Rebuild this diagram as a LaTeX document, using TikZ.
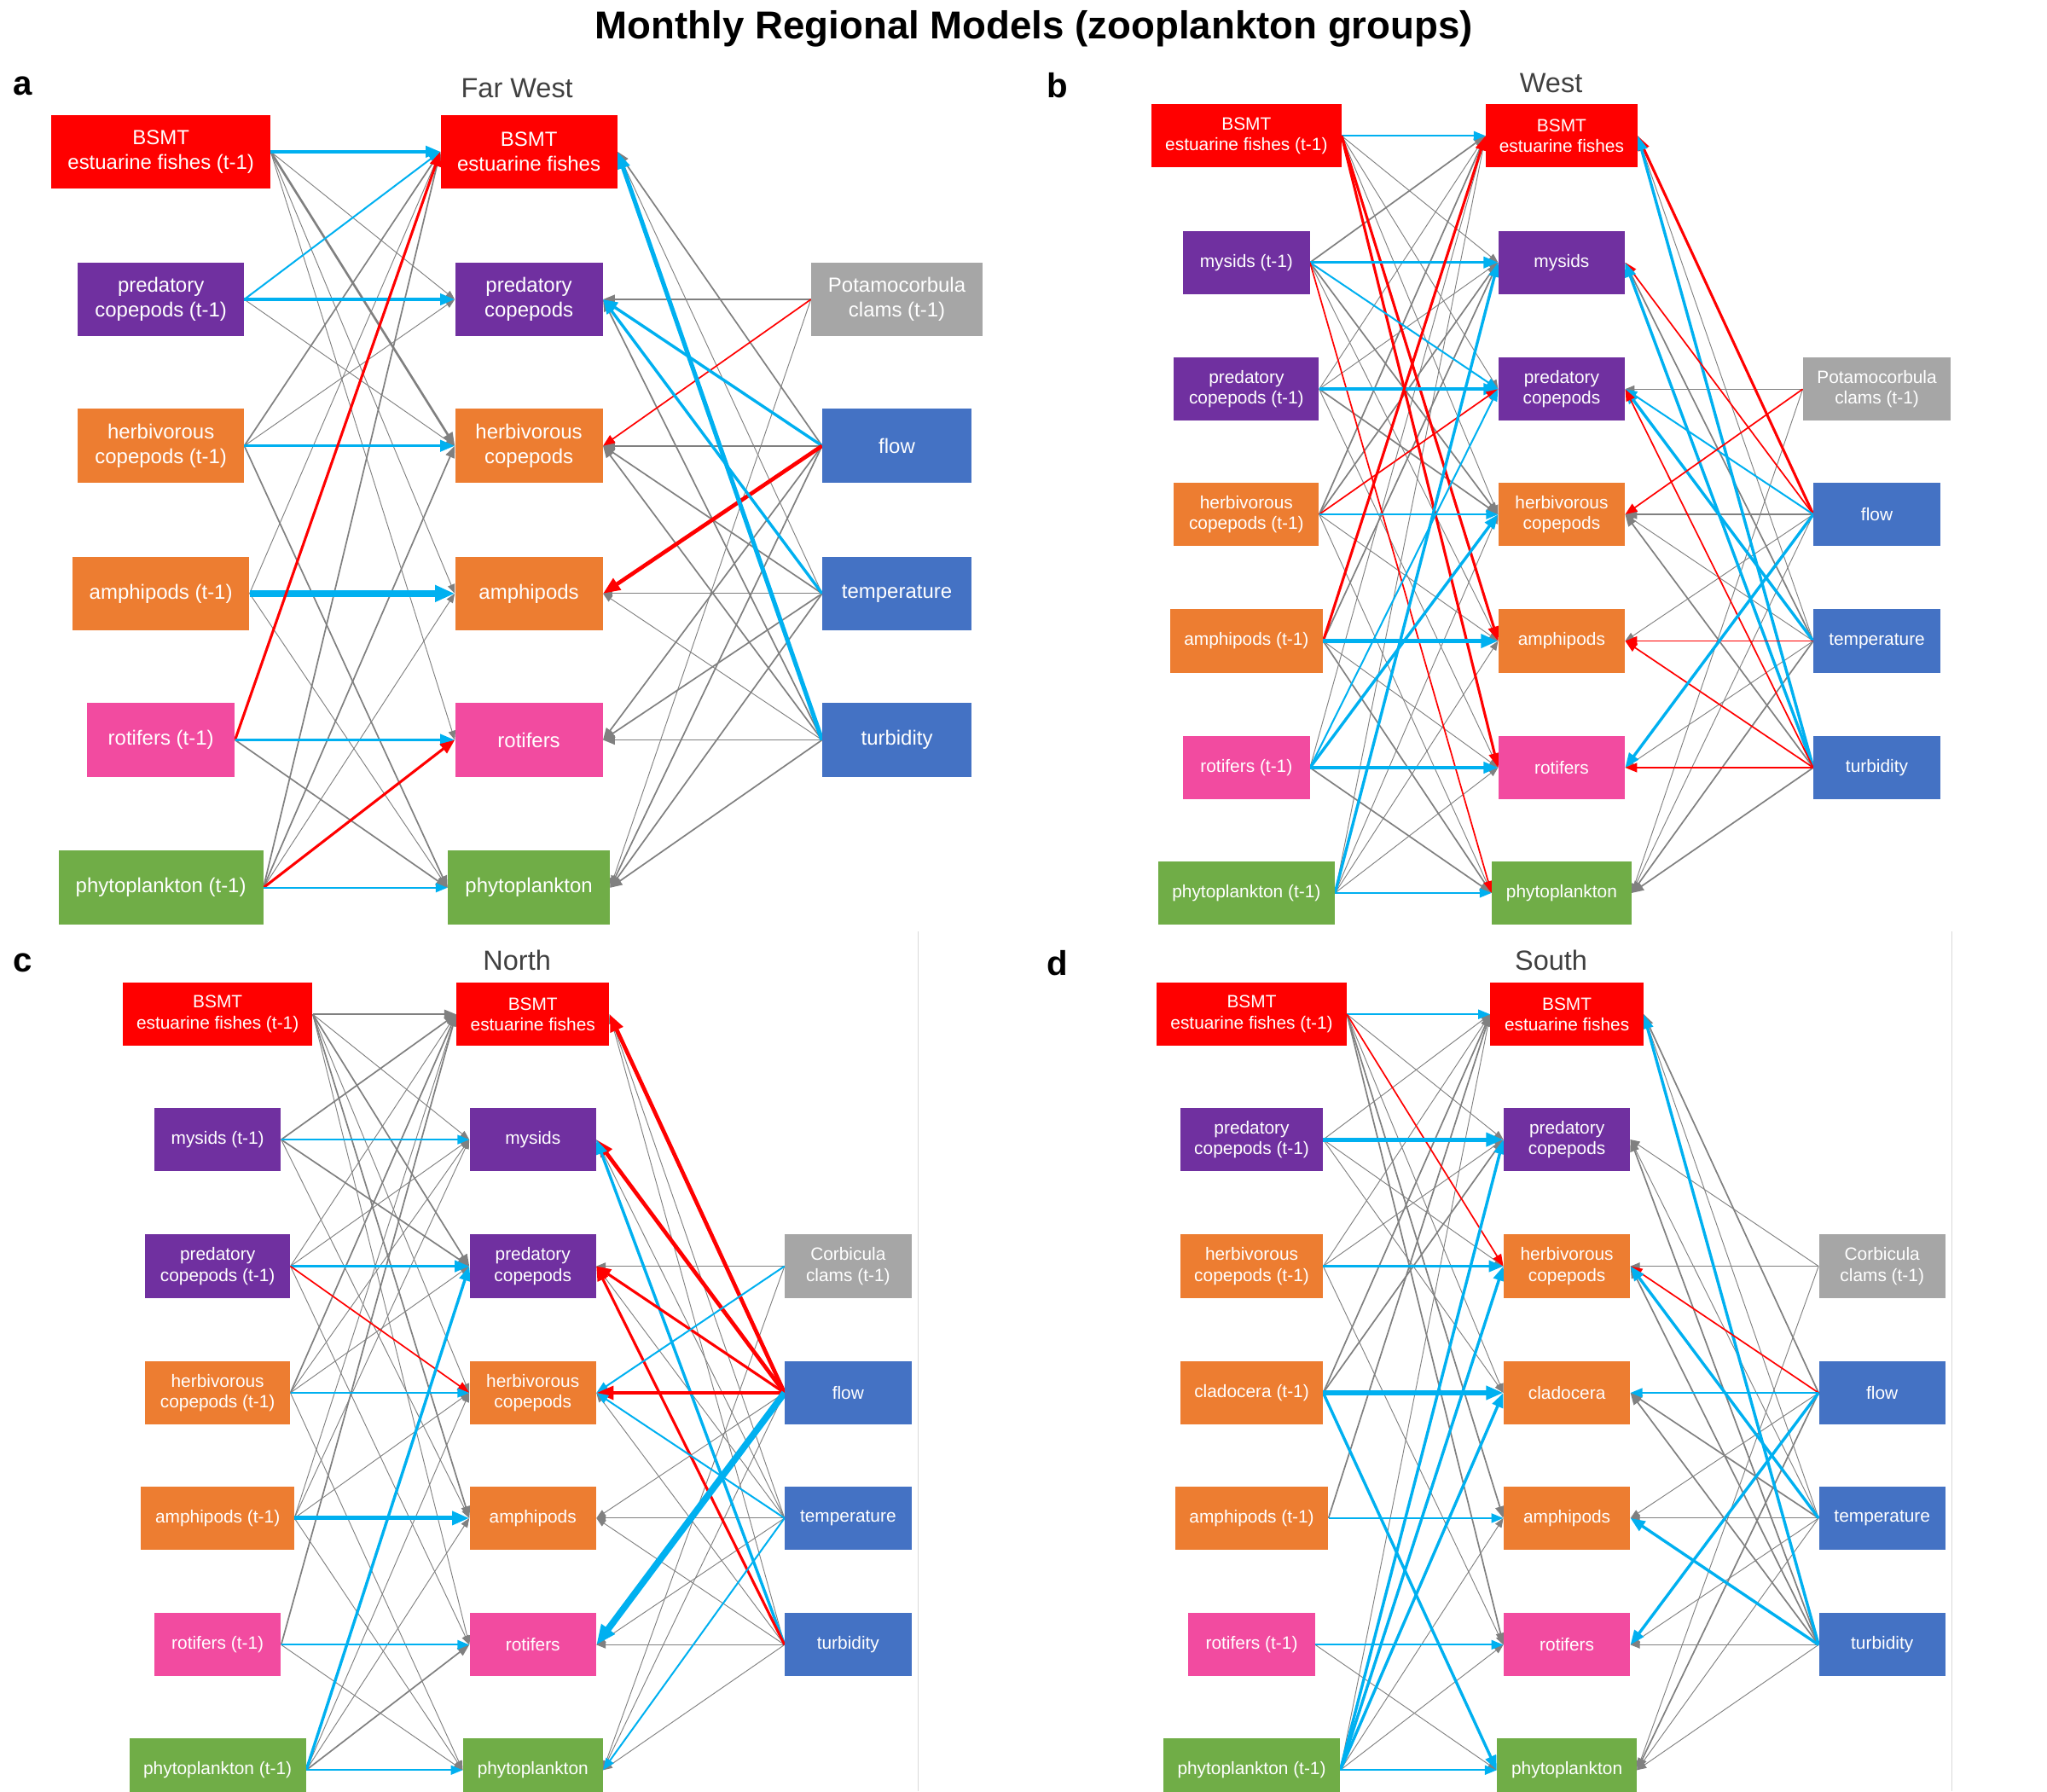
\documentclass[tikz,border=0pt]{standalone}
\usepackage{fontspec}
\setmainfont{Liberation Sans}
\usetikzlibrary{arrows.meta}
\pgfdeclarelayer{bg}
\pgfdeclarelayer{mid}
\pgfsetlayers{bg,mid,main}
\definecolor{cr}{HTML}{FF0000}
\definecolor{cp}{HTML}{7030A0}
\definecolor{co}{HTML}{ED7D31}
\definecolor{ck}{HTML}{F24BA0}
\definecolor{cg}{HTML}{70AD47}
\definecolor{cgr}{HTML}{A6A6A6}
\definecolor{cb}{HTML}{4472C4}
\definecolor{eg}{HTML}{808080}
\definecolor{eb}{HTML}{00B0F0}
\definecolor{er}{HTML}{FF0000}
\definecolor{tg}{HTML}{404040}
\definecolor{sep}{HTML}{D9D9D9}
\tikzset{
  na/.style={inner sep=0pt, align=center, text=white, minimum height=56pt, font=\fontsize{15.5}{18.5}\selectfont},
  nbx/.style={inner sep=0pt, align=center, text=white, minimum height=48pt, font=\fontsize{13.5}{16}\selectfont},
  g1/.style={draw=eg, line width=0.6pt, -{Triangle[length=7pt,width=5.5pt]}},
  g2/.style={draw=eg, line width=1.1pt, -{Triangle[length=9pt,width=7pt]}},
  g3/.style={draw=eg, line width=1.7pt, -{Triangle[length=10pt,width=8pt]}},
  b1/.style={draw=eb, line width=1.3pt, -{Triangle[length=9pt,width=7pt]}},
  b2/.style={draw=eb, line width=2.2pt, -{Triangle[length=11pt,width=8.5pt]}},
  b3/.style={draw=eb, line width=3.3pt, -{Triangle[length=13pt,width=10pt]}},
  b4/.style={draw=eb, line width=5pt, -{Triangle[length=15pt,width=12pt]}},
  r1/.style={draw=er, line width=1.1pt, -{Triangle[length=9pt,width=7pt]}},
  r2/.style={draw=er, line width=2pt, -{Triangle[length=11pt,width=8.5pt]}},
  r3/.style={draw=er, line width=3pt, -{Triangle[length=13pt,width=10pt]}},
}
\expandafter\def\csname layg1\endcsname{bg}
\expandafter\def\csname layg2\endcsname{bg}
\expandafter\def\csname layg3\endcsname{bg}
\expandafter\def\csname layb1\endcsname{mid}
\expandafter\def\csname layb2\endcsname{mid}
\expandafter\def\csname layb3\endcsname{mid}
\expandafter\def\csname layb4\endcsname{mid}
\expandafter\def\csname layr1\endcsname{mid}
\expandafter\def\csname layr2\endcsname{mid}
\expandafter\def\csname layr3\endcsname{mid}
\newcommand\edgeL[3]{\edef\curlay{\csname lay#1\endcsname}\begin{pgfonlayer}{\curlay}\draw[#1] (#2.east) -- (#3.west);\end{pgfonlayer}}
\newcommand\edgeR[3]{\edef\curlay{\csname lay#1\endcsname}\begin{pgfonlayer}{\curlay}\draw[#1] (#2.west) -- (#3.east);\end{pgfonlayer}}
\begin{document}
\begin{tikzpicture}[x=1pt,y=-1pt]
\useasboundingbox (0,0) rectangle (1552,1358);
% title and labels
\node[font=\fontsize{29.5}{34}\selectfont\bfseries] (title) at (784,22) {Monthly Regional Models (zooplankton groups)};
\node[font=\fontsize{26}{30}\selectfont\bfseries] (la) at (17,65) {a};
\node[font=\fontsize{26}{30}\selectfont\bfseries] (lb) at (802,65) {b};
\node[font=\fontsize{26}{30}\selectfont\bfseries] (lc) at (17,730) {c};
\node[font=\fontsize{26}{30}\selectfont\bfseries] (ld) at (802,730) {d};
\node[text=tg, font=\fontsize{21}{25}\selectfont] (ta) at (392,67) {Far West};
\node[text=tg, font=\fontsize{21}{25}\selectfont] (tb) at (1176,63) {West};
\node[text=tg, font=\fontsize{21}{25}\selectfont] (tc) at (392,728) {North};
\node[text=tg, font=\fontsize{21}{25}\selectfont] (td) at (1176,728) {South};
\draw[sep, line width=1pt] (696,706) -- (696,1358);
\draw[sep, line width=1pt] (1480,706) -- (1480,1358);

% ================= panel a =================
\node[na, fill=cr, minimum width=166pt] (aF1) at (122,115) {BSMT\\estuarine fishes (t-1)};
\node[na, fill=cp, minimum width=126pt] (aPC1) at (122,227) {predatory\\copepods (t-1)};
\node[na, fill=co, minimum width=126pt] (aHC1) at (122,338) {herbivorous\\copepods (t-1)};
\node[na, fill=co, minimum width=134pt] (aAM1) at (122,450) {amphipods (t-1)};
\node[na, fill=ck, minimum width=112pt] (aRO1) at (122,561) {rotifers (t-1)};
\node[na, fill=cg, minimum width=155pt] (aPH1) at (122,673) {phytoplankton (t-1)};
\node[na, fill=cr, minimum width=134pt] (aF) at (401,115) {BSMT\\estuarine fishes};
\node[na, fill=cp, minimum width=112pt] (aPC) at (401,227) {predatory\\copepods};
\node[na, fill=co, minimum width=112pt] (aHC) at (401,338) {herbivorous\\copepods};
\node[na, fill=co, minimum width=112pt] (aAM) at (401,450) {amphipods};
\node[na, fill=ck, minimum width=112pt] (aRO) at (401,561) {rotifers};
\node[na, fill=cg, minimum width=123pt] (aPH) at (401,673) {phytoplankton};
\node[na, fill=cgr, minimum width=130pt] (aPOT) at (680,227) {Potamocorbula\\clams (t-1)};
\node[na, fill=cb, minimum width=113pt] (aFL) at (680,338) {flow};
\node[na, fill=cb, minimum width=113pt] (aTE) at (680,450) {temperature};
\node[na, fill=cb, minimum width=113pt] (aTU) at (680,561) {turbidity};

\edgeL{b2}{aF1}{aF}
\edgeL{g1}{aF1}{aPC}
\edgeL{g3}{aF1}{aHC}
\edgeL{g1}{aF1}{aAM}
\edgeL{g1}{aF1}{aRO}
\edgeL{b1}{aPC1}{aF}
\edgeL{b2}{aPC1}{aPC}
\edgeL{g1}{aPC1}{aHC}
\edgeL{g2}{aHC1}{aF}
\edgeL{g1}{aHC1}{aPC}
\edgeL{b2}{aHC1}{aHC}
\edgeL{g2}{aHC1}{aPH}
\edgeL{g1}{aAM1}{aF}
\edgeL{b4}{aAM1}{aAM}
\edgeL{g1}{aAM1}{aPH}
\edgeL{r2}{aRO1}{aF}
\edgeL{b2}{aRO1}{aRO}
\edgeL{g2}{aRO1}{aPH}
\edgeL{g2}{aPH1}{aF}
\edgeL{g2}{aPH1}{aHC}
\edgeL{g1}{aPH1}{aAM}
\edgeL{r2}{aPH1}{aRO}
\edgeL{b1}{aPH1}{aPH}

\edgeR{g2}{aPOT}{aPC}
\edgeR{r1}{aPOT}{aHC}
\edgeR{g1}{aPOT}{aPH}
\edgeR{g2}{aFL}{aF}
\edgeR{b2}{aFL}{aPC}
\edgeR{g2}{aFL}{aHC}
\edgeR{r3}{aFL}{aAM}
\edgeR{g2}{aFL}{aRO}
\edgeR{g2}{aFL}{aPH}
\edgeR{g1}{aTE}{aF}
\edgeR{b2}{aTE}{aPC}
\edgeR{g2}{aTE}{aHC}
\edgeR{g1}{aTE}{aAM}
\edgeR{g2}{aTE}{aRO}
\edgeR{g2}{aTE}{aPH}
\edgeR{b3}{aTU}{aF}
\edgeR{g2}{aTU}{aPC}
\edgeR{g2}{aTU}{aHC}
\edgeR{g1}{aTU}{aAM}
\edgeR{g2}{aTU}{aRO}
\edgeR{g2}{aTU}{aPH}

% ================= panel b =================
\node[nbx, fill=cr, minimum width=144pt] (bF1) at (945,103) {BSMT\\estuarine fishes (t-1)};
\node[nbx, fill=cp, minimum width=96pt] (bMY1) at (945,199) {mysids (t-1)};
\node[nbx, fill=cp, minimum width=110pt] (bPC1) at (945,295) {predatory\\copepods (t-1)};
\node[nbx, fill=co, minimum width=110pt] (bHC1) at (945,390) {herbivorous\\copepods (t-1)};
\node[nbx, fill=co, minimum width=116pt] (bAM1) at (945,486) {amphipods (t-1)};
\node[nbx, fill=ck, minimum width=96pt] (bRO1) at (945,582) {rotifers (t-1)};
\node[nbx, fill=cg, minimum width=134pt] (bPH1) at (945,677) {phytoplankton (t-1)};
\node[nbx, fill=cr, minimum width=115pt] (bF) at (1184,103) {BSMT\\estuarine fishes};
\node[nbx, fill=cp, minimum width=96pt] (bMY) at (1184,199) {mysids};
\node[nbx, fill=cp, minimum width=96pt] (bPC) at (1184,295) {predatory\\copepods};
\node[nbx, fill=co, minimum width=96pt] (bHC) at (1184,390) {herbivorous\\copepods};
\node[nbx, fill=co, minimum width=96pt] (bAM) at (1184,486) {amphipods};
\node[nbx, fill=ck, minimum width=96pt] (bRO) at (1184,582) {rotifers};
\node[nbx, fill=cg, minimum width=106pt] (bPH) at (1184,677) {phytoplankton};
\node[nbx, fill=cgr, minimum width=112pt] (bPOT) at (1423,295) {Potamocorbula\\clams (t-1)};
\node[nbx, fill=cb, minimum width=96pt] (bFL) at (1423,390) {flow};
\node[nbx, fill=cb, minimum width=96pt] (bTE) at (1423,486) {temperature};
\node[nbx, fill=cb, minimum width=96pt] (bTU) at (1423,582) {turbidity};

\edgeL{b1}{bF1}{bF}
\edgeL{g1}{bF1}{bMY}
\edgeL{g1}{bF1}{bPC}
\edgeL{g1}{bF1}{bHC}
\edgeL{r2}{bF1}{bAM}
\edgeL{r2}{bF1}{bRO}
\edgeL{g2}{bMY1}{bF}
\edgeL{b2}{bMY1}{bMY}
\edgeL{b1}{bMY1}{bPC}
\edgeL{g2}{bMY1}{bHC}
\edgeL{g1}{bMY1}{bAM}
\edgeL{r1}{bMY1}{bPH}
\edgeL{g1}{bPC1}{bF}
\edgeL{g1}{bPC1}{bMY}
\edgeL{b2}{bPC1}{bPC}
\edgeL{g2}{bPC1}{bHC}
\edgeL{g1}{bPC1}{bRO}
\edgeL{g2}{bHC1}{bF}
\edgeL{g2}{bHC1}{bMY}
\edgeL{r1}{bHC1}{bPC}
\edgeL{b1}{bHC1}{bHC}
\edgeL{g1}{bHC1}{bAM}
\edgeL{g1}{bHC1}{bPH}
\edgeL{r2}{bAM1}{bF}
\edgeL{g2}{bAM1}{bMY}
\edgeL{b3}{bAM1}{bAM}
\edgeL{g1}{bAM1}{bRO}
\edgeL{g2}{bAM1}{bPH}
\edgeL{g1}{bRO1}{bF}
\edgeL{b1}{bRO1}{bPC}
\edgeL{b2}{bRO1}{bHC}
\edgeL{b2}{bRO1}{bRO}
\edgeL{g2}{bRO1}{bPH}
\edgeL{g1}{bPH1}{bF}
\edgeL{b2}{bPH1}{bMY}
\edgeL{g1}{bPH1}{bHC}
\edgeL{g1}{bPH1}{bAM}
\edgeL{g1}{bPH1}{bRO}
\edgeL{b1}{bPH1}{bPH}

\edgeR{r2}{bFL}{bF}
\edgeR{b2}{bTU}{bF}
\edgeR{g1}{bTE}{bF}
\edgeR{r1}{bFL}{bMY}
\edgeR{g2}{bTE}{bMY}
\edgeR{b2}{bTU}{bMY}
\edgeR{g1}{bPOT}{bPC}
\edgeR{b1}{bFL}{bPC}
\edgeR{b2}{bTE}{bPC}
\edgeR{r1}{bTU}{bPC}
\edgeR{r1}{bPOT}{bHC}
\edgeR{g2}{bFL}{bHC}
\edgeR{g1}{bTE}{bHC}
\edgeR{g2}{bTU}{bHC}
\edgeR{g1}{bFL}{bAM}
\edgeR{r1}{bTE}{bAM}
\edgeR{r1}{bTU}{bAM}
\edgeR{b2}{bFL}{bRO}
\edgeR{g1}{bTE}{bRO}
\edgeR{r1}{bTU}{bRO}
\edgeR{g1}{bPOT}{bPH}
\edgeR{g1}{bFL}{bPH}
\edgeR{g2}{bTE}{bPH}
\edgeR{g2}{bTU}{bPH}

% ================= panel c =================
\node[nbx, fill=cr, minimum width=144pt] (cF1) at (165,769) {BSMT\\estuarine fishes (t-1)};
\node[nbx, fill=cp, minimum width=96pt] (cMY1) at (165,864) {mysids (t-1)};
\node[nbx, fill=cp, minimum width=110pt] (cPC1) at (165,960) {predatory\\copepods (t-1)};
\node[nbx, fill=co, minimum width=110pt] (cHC1) at (165,1056) {herbivorous\\copepods (t-1)};
\node[nbx, fill=co, minimum width=116pt] (cAM1) at (165,1151) {amphipods (t-1)};
\node[nbx, fill=ck, minimum width=96pt] (cRO1) at (165,1247) {rotifers (t-1)};
\node[nbx, fill=cg, minimum width=134pt] (cPH1) at (165,1342) {phytoplankton (t-1)};
\node[nbx, fill=cr, minimum width=116pt] (cF) at (404,769) {BSMT\\estuarine fishes};
\node[nbx, fill=cp, minimum width=96pt] (cMY) at (404,864) {mysids};
\node[nbx, fill=cp, minimum width=96pt] (cPC) at (404,960) {predatory\\copepods};
\node[nbx, fill=co, minimum width=96pt] (cHC) at (404,1056) {herbivorous\\copepods};
\node[nbx, fill=co, minimum width=96pt] (cAM) at (404,1151) {amphipods};
\node[nbx, fill=ck, minimum width=96pt] (cRO) at (404,1247) {rotifers};
\node[nbx, fill=cg, minimum width=106pt] (cPH) at (404,1342) {phytoplankton};
\node[nbx, fill=cgr, minimum width=96pt] (cCO) at (643,960) {Corbicula\\clams (t-1)};
\node[nbx, fill=cb, minimum width=96pt] (cFL) at (643,1056) {flow};
\node[nbx, fill=cb, minimum width=96pt] (cTE) at (643,1151) {temperature};
\node[nbx, fill=cb, minimum width=96pt] (cTU) at (643,1247) {turbidity};

\edgeL{g2}{cF1}{cF}
\edgeL{g1}{cF1}{cMY}
\edgeL{g2}{cF1}{cPC}
\edgeL{g1}{cF1}{cHC}
\edgeL{g2}{cF1}{cAM}
\edgeL{g1}{cF1}{cRO}
\edgeL{g2}{cMY1}{cF}
\edgeL{b1}{cMY1}{cMY}
\edgeL{g2}{cMY1}{cPC}
\edgeL{g1}{cMY1}{cAM}
\edgeL{g1}{cPC1}{cF}
\edgeL{g1}{cPC1}{cMY}
\edgeL{b2}{cPC1}{cPC}
\edgeL{r1}{cPC1}{cHC}
\edgeL{g1}{cPC1}{cRO}
\edgeL{g2}{cHC1}{cF}
\edgeL{g1}{cHC1}{cMY}
\edgeL{g1}{cHC1}{cPC}
\edgeL{b1}{cHC1}{cHC}
\edgeL{g1}{cHC1}{cPH}
\edgeL{g1}{cAM1}{cF}
\edgeL{g1}{cAM1}{cMY}
\edgeL{g1}{cAM1}{cHC}
\edgeL{b3}{cAM1}{cAM}
\edgeL{g1}{cAM1}{cPH}
\edgeL{g2}{cRO1}{cF}
\edgeL{b1}{cRO1}{cRO}
\edgeL{g1}{cRO1}{cPH}
\edgeL{b2}{cPH1}{cPC}
\edgeL{g1}{cPH1}{cHC}
\edgeL{g1}{cPH1}{cAM}
\edgeL{g2}{cPH1}{cRO}
\edgeL{b1}{cPH1}{cPH}

\edgeR{r3}{cFL}{cF}
\edgeR{g1}{cTE}{cF}
\edgeR{g1}{cTU}{cF}
\edgeR{r3}{cFL}{cMY}
\edgeR{g1}{cTE}{cMY}
\edgeR{b2}{cTU}{cMY}
\edgeR{g1}{cCO}{cPC}
\edgeR{r2}{cFL}{cPC}
\edgeR{g1}{cTE}{cPC}
\edgeR{r2}{cTU}{cPC}
\edgeR{b1}{cCO}{cHC}
\edgeR{r3}{cFL}{cHC}
\edgeR{b1}{cTE}{cHC}
\edgeR{g1}{cTU}{cHC}
\edgeR{g1}{cFL}{cAM}
\edgeR{g1}{cTE}{cAM}
\edgeR{g1}{cTU}{cAM}
\edgeR{b4}{cFL}{cRO}
\edgeR{g1}{cTE}{cRO}
\edgeR{g1}{cTU}{cRO}
\edgeR{g1}{cCO}{cPH}
\edgeR{g1}{cFL}{cPH}
\edgeR{b1}{cTE}{cPH}
\edgeR{g1}{cTU}{cPH}

% ================= panel d =================
\node[nbx, fill=cr, minimum width=144pt] (dF1) at (949,769) {BSMT\\estuarine fishes (t-1)};
\node[nbx, fill=cp, minimum width=108pt] (dPC1) at (949,864) {predatory\\copepods (t-1)};
\node[nbx, fill=co, minimum width=108pt] (dHC1) at (949,960) {herbivorous\\copepods (t-1)};
\node[nbx, fill=co, minimum width=108pt] (dCL1) at (949,1056) {cladocera (t-1)};
\node[nbx, fill=co, minimum width=116pt] (dAM1) at (949,1151) {amphipods (t-1)};
\node[nbx, fill=ck, minimum width=96pt] (dRO1) at (949,1247) {rotifers (t-1)};
\node[nbx, fill=cg, minimum width=134pt] (dPH1) at (949,1342) {phytoplankton (t-1)};
\node[nbx, fill=cr, minimum width=116pt] (dF) at (1188,769) {BSMT\\estuarine fishes};
\node[nbx, fill=cp, minimum width=96pt] (dPC) at (1188,864) {predatory\\copepods};
\node[nbx, fill=co, minimum width=96pt] (dHC) at (1188,960) {herbivorous\\copepods};
\node[nbx, fill=co, minimum width=96pt] (dCL) at (1188,1056) {cladocera};
\node[nbx, fill=co, minimum width=96pt] (dAM) at (1188,1151) {amphipods};
\node[nbx, fill=ck, minimum width=96pt] (dRO) at (1188,1247) {rotifers};
\node[nbx, fill=cg, minimum width=106pt] (dPH) at (1188,1342) {phytoplankton};
\node[nbx, fill=cgr, minimum width=96pt] (dCO) at (1427,960) {Corbicula\\clams (t-1)};
\node[nbx, fill=cb, minimum width=96pt] (dFL) at (1427,1056) {flow};
\node[nbx, fill=cb, minimum width=96pt] (dTE) at (1427,1151) {temperature};
\node[nbx, fill=cb, minimum width=96pt] (dTU) at (1427,1247) {turbidity};

\edgeL{b1}{dF1}{dF}
\edgeL{g1}{dF1}{dPC}
\edgeL{r1}{dF1}{dHC}
\edgeL{g1}{dF1}{dCL}
\edgeL{g2}{dF1}{dAM}
\edgeL{g2}{dF1}{dRO}
\edgeL{g1}{dPC1}{dF}
\edgeL{b3}{dPC1}{dPC}
\edgeL{g1}{dPC1}{dHC}
\edgeL{g1}{dPC1}{dCL}
\edgeL{g1}{dHC1}{dF}
\edgeL{g1}{dHC1}{dPC}
\edgeL{b2}{dHC1}{dHC}
\edgeL{g1}{dHC1}{dRO}
\edgeL{g2}{dCL1}{dF}
\edgeL{g2}{dCL1}{dPC}
\edgeL{b3}{dCL1}{dCL}
\edgeL{b2}{dCL1}{dPH}
\edgeL{g2}{dAM1}{dF}
\edgeL{b1}{dAM1}{dAM}
\edgeL{b1}{dRO1}{dRO}
\edgeL{g1}{dRO1}{dPH}
\edgeL{g1}{dPH1}{dF}
\edgeL{b2}{dPH1}{dPC}
\edgeL{b2}{dPH1}{dHC}
\edgeL{b2}{dPH1}{dCL}
\edgeL{g1}{dPH1}{dAM}
\edgeL{g1}{dPH1}{dRO}
\edgeL{b1}{dPH1}{dPH}

\edgeR{b2}{dTU}{dF}
\edgeR{g2}{dFL}{dF}
\edgeR{g1}{dTE}{dF}
\edgeR{g1}{dCO}{dPC}
\edgeR{g1}{dTE}{dPC}
\edgeR{g2}{dTU}{dPC}
\edgeR{g1}{dCO}{dHC}
\edgeR{r1}{dFL}{dHC}
\edgeR{b2}{dTE}{dHC}
\edgeR{g2}{dTU}{dHC}
\edgeR{b1}{dFL}{dCL}
\edgeR{g2}{dTE}{dCL}
\edgeR{g2}{dTU}{dCL}
\edgeR{g1}{dFL}{dAM}
\edgeR{g1}{dTE}{dAM}
\edgeR{b2}{dTU}{dAM}
\edgeR{b2}{dFL}{dRO}
\edgeR{g1}{dTE}{dRO}
\edgeR{g1}{dTU}{dRO}
\edgeR{g1}{dCO}{dPH}
\edgeR{g2}{dFL}{dPH}
\edgeR{g1}{dTE}{dPH}
\edgeR{g1}{dTU}{dPH}
\end{tikzpicture}
\end{document}
